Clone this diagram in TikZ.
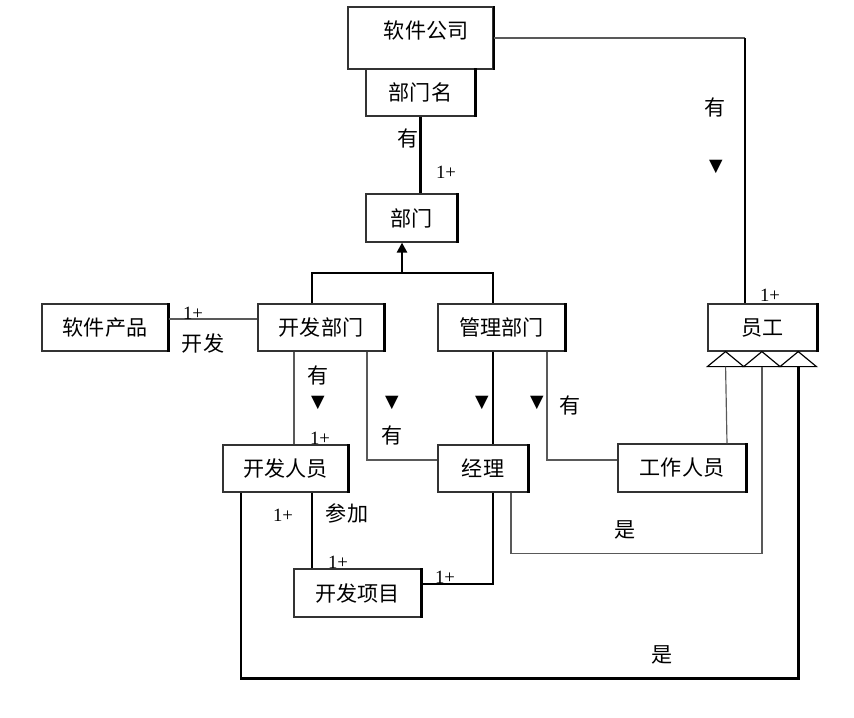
\documentclass[tikz,border=0pt]{standalone}
\usepackage{fontspec}
\usepackage{tikz}
\usetikzlibrary{arrows.meta, calc}

\newfontfamily\cjk{Noto Sans CJK SC}
\newfontfamily\numfont{Liberation Serif}
\newfontfamily\symfont{DejaVu Sans}
\newcommand\zhfont{\cjk\fontsize{18}{21}\selectfont}
\newcommand\cardfont{\numfont\fontsize{16}{18}\selectfont}
\newcommand\markfont{\symfont\fontsize{15}{17}\selectfont}

\begin{document}
\begin{tikzpicture}[
        x = 0.03cm, y = -0.03cm, % one unit = one pixel of the sketch
        > = {Triangle[length=0.3cm, width=0.3cm]}, % arrow head style
        thinline/.style = {line width=1pt, black!65},
        thickline/.style = {line width=2.3pt, black}
    ]

    \tikzstyle{box}=[
        draw = black!80,
        fill = white,
        line width = 1pt,
        inner sep = 0pt,
        minimum height = 1.41cm,
        font = \zhfont,
        append after command = {(\tikzlastnode.north east) edge[line width=2.2pt, black] (\tikzlastnode.south east)}
    ]
    \tikzstyle{lbl}=[font=\zhfont, inner sep=0pt]
    \tikzstyle{card}=[font=\cardfont, inner sep=0pt]
    \tikzstyle{dirmark}=[font=\markfont, inner sep=0pt]

    \useasboundingbox (0,0) rectangle (854,718);

    % classes
    \node[box, line width=1.6pt, minimum width=4.35cm, minimum height=1.86cm,
          label={[font=\zhfont, xshift=0.17cm, yshift=0.24cm]center:软件公司}] (gs) at (420.5,38) {};
    \node[box, minimum width=3.27cm] (bmm) at (420.5,92.5) {部门名};
    \node[box, minimum width=2.73cm, minimum height=1.44cm] (bm) at (411.5,218) {部门};
    \node[box, minimum width=3.78cm] (kfbm) at (321,327.5) {开发部门};
    \node[box, minimum width=3.78cm] (rjcp) at (105,327.5) {软件产品};
    \node[box, minimum width=3.81cm] (glbm) at (501.5,327.5) {管理部门};
    \node[box, minimum width=3.27cm] (yg) at (762.5,327.5) {员工};
    \node[box, minimum width=3.75cm] (kfry) at (285.5,468.5) {开发人员};
    \node[box, minimum width=2.70cm] (jl) at (483,468.5) {经理};
    \node[box, minimum width=3.84cm, minimum height=1.44cm] (gzry) at (682,468) {工作人员};
    \node[box, minimum width=3.81cm, minimum height=1.44cm] (kfxm) at (357.5,593) {开发项目};

    % generalisation marks under 员工
    \foreach \i in {0,1,2} {
        \draw[line width=1pt, fill=white] ($(yg.south west)+(36.33*\i,15)$) -- ++(18.17,-15) -- ++(18.17,15) -- cycle;
        \coordinate (t\i) at ($(yg.south west)+(36.33*\i+18.17,15)$);
    }

    % links
    \coordinate (jn) at (402,273);
    \coordinate (gc) at ($(yg.north)+(-17.5,0)$);
    \draw[thickline] (bmm.south) -- (bmm.south |- bm.north);
    \draw[thickline, ->] (jn) -- (jn |- bm.south);
    \draw[thickline] ($(kfbm.north)+(-9,0)$) |- (jn) -| ($(glbm.north)+(-8.5,0)$);
    \draw[thinline, line width=1.5pt] (gs.east) -- (gs.east -| gc);
    \draw[thickline] (gs.east -| gc) -- (gc);
    \draw[thinline] ($(rjcp.east)+(0,-8.5)$) -- ($(kfbm.west)+(0,-8.5)$);
    \draw[thinline] ($(kfbm.south)+(-27,0)$) -- ($(kfry.north)+(8.5,0)$);
    \draw[thinline] ($(kfbm.south)+(46,0)$) |- ($(jl.west)+(0,-8.5)$);
    \draw[thickline] ($(glbm.south)+(-8.5,0)$) -- ($(jl.north)+(10,0)$);
    \draw[thinline] ($(glbm.south)+(45.5,0)$) |- ($(gzry.west)+(0,-8)$);
    \draw[thinline] ($(gzry.north)+(45,0)$) -- (t0);
    \coordinate (low1) at ($(t1)+(0,187)$);
    \draw[thinline] ($(jl.south)+(28,0)$) |- (low1) -- (t1);
    \draw[thickline] ($(jl.south)+(10,0)$) |- ($(kfxm.east)+(0,-9)$);
    \draw[thickline] ($(kfry.south)+(26.5,0)$) -- ($(kfxm.north)+(-45.5,0)$);
    \coordinate (low2) at ($(t2)+(0,312)$);
    \draw[thickline] ($(kfry.south)+(-44.5,0)$) |- (low2) -- (t2);

    % link labels
    \node[lbl] (you1) at (408,138) {有};
    \node[card] (n1) at (446,172) {1+};
    \node[lbl] (you2) at (715,107) {有};
    \node[dirmark] (m1) at (716,167) {▼};
    \node[card] (n2) at (770,295) {1+};
    \node[card] (n3) at (193,313) {1+};
    \node[lbl] (kaifa) at (203,343) {开发};
    \node[lbl] (you3) at (318,375) {有};
    \node[dirmark] (m2) at (318,403) {▼};
    \node[card] (n4) at (320,438) {1+};
    \node[dirmark] (m3) at (392,403) {▼};
    \node[lbl] (you4) at (392,435) {有};
    \node[dirmark] (m4) at (482,403) {▼};
    \node[dirmark] (m5) at (537,403) {▼};
    \node[lbl] (you5) at (570,405) {有};
    \node[lbl] (shi1) at (625,530) {是};
    \node[card] (n5) at (283,515) {1+};
    \node[lbl] (canjia) at (347,513) {参加};
    \node[card] (n6) at (338,562) {1+};
    \node[card] (n7) at (445,577) {1+};
    \node[lbl] (shi2) at (662,655) {是};

\end{tikzpicture}
\end{document}
